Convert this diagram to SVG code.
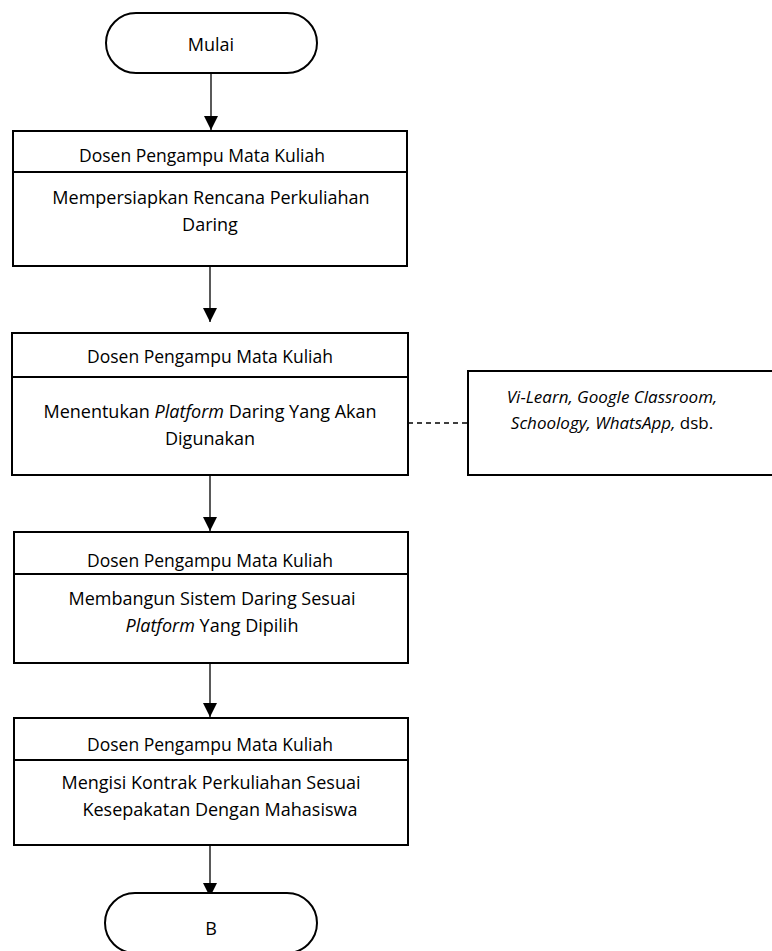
<svg xmlns="http://www.w3.org/2000/svg" width="772" height="951" viewBox="0 0 772 951">
<defs>
<style>
.box{fill:#fff;stroke:#000;stroke-width:2}
.term{fill:#fff;stroke:#000;stroke-width:2}
.div{stroke:#000;stroke-width:2}
.t{font-family:"Open Sans","Liberation Sans",sans-serif;font-size:18px;fill:#000;text-anchor:middle}
.h{font-size:17.5px}
.n{font-size:17px}
.i{font-style:italic}
.con{stroke:#000;stroke-width:1.3;fill:none}
.dash{stroke:#000;stroke-width:1.3;stroke-dasharray:5,4;fill:none}
</style>
<marker id="ah" markerUnits="userSpaceOnUse" markerWidth="16" markerHeight="16" refX="14" refY="7" orient="auto">
<path d="M0,0 L14,7 L0,14 Z" fill="#000"/>
</marker>
</defs>
<rect width="772" height="951" fill="#fff"/>
<g id="connectors">
<line class="con" x1="211" y1="73" x2="211" y2="130" marker-end="url(#ah)"/>
<line class="con" x1="210" y1="266" x2="210" y2="322" marker-end="url(#ah)"/>
<line class="con" x1="210" y1="475" x2="210" y2="531" marker-end="url(#ah)"/>
<line class="con" x1="210" y1="663" x2="210" y2="717" marker-end="url(#ah)"/>
<line class="con" x1="210" y1="845" x2="210" y2="897" marker-end="url(#ah)"/>
<line class="dash" x1="408" y1="423" x2="468" y2="423"/>
</g>
<g id="mulai">
<rect class="term" x="106" y="13" width="211" height="60" rx="30" ry="30"/>
<text class="t" x="211" y="51">Mulai</text>
</g>
<g id="step1">
<rect class="box" x="13" y="131" width="394" height="135"/>
<line class="div" x1="13" y1="172" x2="407" y2="172"/>
<text class="t h" x="202" y="162">Dosen Pengampu Mata Kuliah</text>
<text class="t" x="211" y="204">Mempersiapkan Rencana Perkuliahan</text>
<text class="t" x="210" y="231">Daring</text>
</g>
<g id="step2">
<rect class="box" x="12" y="333" width="396" height="142"/>
<line class="div" x1="12" y1="377" x2="408" y2="377"/>
<text class="t h" x="210" y="363">Dosen Pengampu Mata Kuliah</text>
<text class="t" x="210" y="418">Menentukan <tspan class="i">Platform</tspan> Daring Yang Akan</text>
<text class="t" x="210" y="445">Digunakan</text>
</g>
<g id="note">
<rect class="box" x="468" y="371" width="310" height="104"/>
<text class="t n" x="612" y="403"><tspan class="i">Vi-Learn, Google Classroom,</tspan></text>
<text class="t n" x="612" y="429"><tspan class="i">Schoology, WhatsApp,</tspan> dsb.</text>
</g>
<g id="step3">
<rect class="box" x="14" y="532" width="394" height="131"/>
<line class="div" x1="14" y1="574" x2="408" y2="574"/>
<text class="t h" x="210" y="567">Dosen Pengampu Mata Kuliah</text>
<text class="t" x="212" y="605">Membangun Sistem Daring Sesuai</text>
<text class="t" x="212" y="632"><tspan class="i">Platform</tspan> Yang Dipilih</text>
</g>
<g id="step4">
<rect class="box" x="14" y="718" width="394" height="127"/>
<line class="div" x1="14" y1="760" x2="408" y2="760"/>
<text class="t h" x="210" y="751">Dosen Pengampu Mata Kuliah</text>
<text class="t" x="211" y="789">Mengisi Kontrak Perkuliahan Sesuai</text>
<text class="t" x="220" y="816">Kesepakatan Dengan Mahasiswa</text>
</g>
<g id="end">
<rect class="term" x="105" y="893" width="212" height="60" rx="30" ry="30"/>
<text class="t" x="211" y="935">B</text>
</g>
</svg>
